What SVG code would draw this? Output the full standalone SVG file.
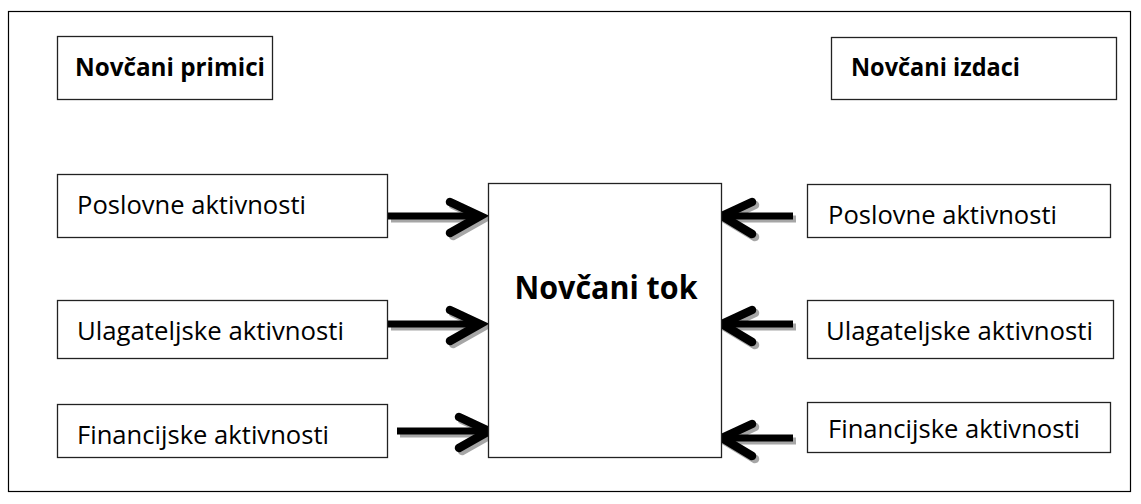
<svg xmlns="http://www.w3.org/2000/svg" width="1141" height="504" viewBox="0 0 1141 504">
<defs>
<style>
.box{fill:#fff;stroke:#222;stroke-width:1.3}
.lbl{font-family:"Open Sans","Noto Sans",sans-serif;font-size:26px;fill:#000}
.hdr{font-family:"Open Sans","Noto Sans",sans-serif;font-size:25px;font-weight:bold;fill:#000}
.big{font-family:"Open Sans","Noto Sans",sans-serif;font-size:33px;font-weight:bold;fill:#000}
.shaft{fill:none;stroke-width:7}
.head{fill:none;stroke-width:8.5;stroke-linecap:round;stroke-linejoin:miter;stroke-miterlimit:10}
.shadow{stroke:#a6a6a6}
.ink{stroke:#000}
</style>
<g id="arrR">
<line class="shaft" x1="0" y1="0" x2="88" y2="0"/>
<polyline class="head" points="62,-14 92,0 62,17"/>
</g>
<g id="arrL">
<line class="shaft" x1="4" y1="0" x2="71" y2="0"/>
<polyline class="head" points="30,-14 0,0 30,18"/>
</g>
</defs>
<rect x="0" y="0" width="1141" height="504" fill="#fff"/>
<rect x="8.5" y="11.5" width="1122" height="480" fill="none" stroke="#000" stroke-width="1.2"/>

<g id="connectors">
<g class="shadow" stroke="#a6a6a6" transform="translate(3,3)">
<use href="#arrR" x="388" y="216"/>
<use href="#arrR" x="388" y="324"/>
<use href="#arrR" x="397" y="431"/>
<use href="#arrL" x="722" y="216"/>
<use href="#arrL" x="722" y="324"/>
<use href="#arrL" x="722" y="438"/>
</g>
<g class="ink" stroke="#000">
<use href="#arrR" x="388" y="216"/>
<use href="#arrR" x="388" y="324"/>
<use href="#arrR" x="397" y="431"/>
<use href="#arrL" x="722" y="216"/>
<use href="#arrL" x="722" y="324"/>
<use href="#arrL" x="722" y="438"/>
</g>
</g>

<g id="primici">
<rect class="box" x="57.5" y="36.5" width="215" height="63"/>
<text class="hdr" x="75" y="76" textLength="190" lengthAdjust="spacingAndGlyphs">Novčani primici</text>
</g>
<g id="izdaci">
<rect class="box" x="831.5" y="37.5" width="285" height="62"/>
<text class="hdr" x="851" y="76" textLength="169" lengthAdjust="spacingAndGlyphs">Novčani izdaci</text>
</g>

<g id="tok">
<rect class="box" x="488.5" y="183.5" width="233" height="274"/>
<text class="big" x="606" y="299" text-anchor="middle" textLength="183" lengthAdjust="spacingAndGlyphs">Novčani tok</text>
</g>

<g id="l-poslovne">
<rect class="box" x="57.5" y="174.5" width="330" height="63"/>
<text class="lbl" x="77" y="214" textLength="229" lengthAdjust="spacingAndGlyphs">Poslovne aktivnosti</text>
</g>
<g id="l-ulagateljske">
<rect class="box" x="57.5" y="300.5" width="330" height="58"/>
<text class="lbl" x="77" y="340" textLength="267" lengthAdjust="spacingAndGlyphs">Ulagateljske aktivnosti</text>
</g>
<g id="l-financijske">
<rect class="box" x="57.5" y="404.5" width="330" height="53"/>
<text class="lbl" x="77" y="444" textLength="252" lengthAdjust="spacingAndGlyphs">Financijske aktivnosti</text>
</g>

<g id="r-poslovne">
<rect class="box" x="807.5" y="184.5" width="303" height="53"/>
<text class="lbl" x="828" y="224" textLength="229" lengthAdjust="spacingAndGlyphs">Poslovne aktivnosti</text>
</g>
<g id="r-ulagateljske">
<rect class="box" x="807.5" y="300.5" width="306" height="58"/>
<text class="lbl" x="826" y="340" textLength="267" lengthAdjust="spacingAndGlyphs">Ulagateljske aktivnosti</text>
</g>
<g id="r-financijske">
<rect class="box" x="807.5" y="402.5" width="303" height="50"/>
<text class="lbl" x="828" y="438" textLength="252" lengthAdjust="spacingAndGlyphs">Financijske aktivnosti</text>
</g>
</svg>
